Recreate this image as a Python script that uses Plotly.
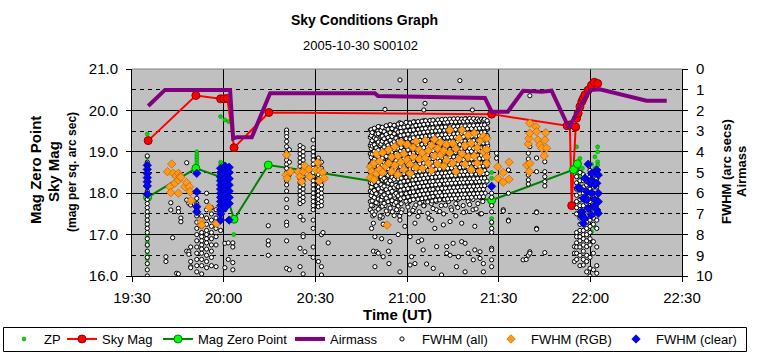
import plotly.graph_objects as go
from datetime import datetime, timedelta

BASE = datetime(2005, 10, 30)


def ut(s):
    h, m = s.split(":")
    return BASE + timedelta(hours=int(h), minutes=float(m))


def expand(times, vals):
    xs, ys = [], []
    for t, vs in zip(times, vals):
        for v in vs:
            xs.append(ut(t))
            ys.append(v)
    return xs, ys

# ---------------- data ----------------
# Sky Mag (left axis)
sky_t = ["19:35.3", "19:50.9", "19:59.0", "20:00.1", "20:01.2", "20:03.4", "20:14.8", "21:27.7",
         "21:52.4", "21:53.3", "21:53.9", "21:55.2", "21:55.5", "21:56.0", "21:56.6", "21:57.2",
         "21:57.7", "21:58.2", "21:59.3", "22:00.4", "22:01.3", "22:02.4"]
sky_v = [19.27, 20.36, 20.28, 20.28, 20.29, 19.10, 19.95, 19.91,
         19.63, 19.65, 17.70, 19.60, 19.81, 19.93, 20.09, 20.21,
         20.29, 20.37, 20.49, 20.61, 20.68, 20.65]

# Mag Zero Point (left axis)
mzp_t = ["19:35.1", "19:50.9", "19:59.1", "20:03.4", "20:14.6", "20:30.0", "21:27.7",
         "21:54.5", "21:55.8", "21:56.6"]
mzp_v = [17.90, 18.60, 18.39, 17.37, 18.68, 18.51, 17.83, 18.57, 18.71, 18.46]

# Airmass (right axis)
air_t = ["19:35.3", "19:40.8", "20:02.1", "20:03.1", "20:04.3", "20:09.2", "20:15.2", "20:49.5",
         "20:50.5", "21:10.1", "21:25.5", "21:27.7", "21:33.0", "21:38.0", "21:44.1", "21:47.3",
         "21:53.0", "21:56.6", "21:59.9", "22:03.1", "22:18.4", "22:25.0"]
air_v = [1.79, 1.01, 1.01, 3.35, 3.30, 3.30, 1.17, 1.17,
         1.30, 1.37, 1.40, 2.06, 2.06, 1.05, 1.10, 1.05,
         2.85, 1.82, 1.01, 0.98, 1.53, 1.53]

# ZP (left axis), grouped by frame time
zp_time = ["19:35.0", "19:51.2", "19:59.0", "20:00.4", "20:01.6", "20:03.3", "21:27.7",
           "21:55.5", "21:56.6", "21:57.4", "21:58.8", "22:00.4", "22:01.5", "22:02.4"]
zp_vals = [
    [19.43, 18.87, 18.72, 18.55, 18.35, 18.15, 17.98, 17.47, 17.33, 17.21, 16.95, 16.81, 16.73, 16.51, 16.41, 16.29],
    [19.00, 18.93, 18.86, 18.80, 18.73, 18.66],
    [19.85, 18.75, 18.68, 18.60],
    [19.77, 18.70, 18.62, 18.50],
    [19.73, 18.65, 18.55, 18.42],
    [17.42, 17.00],
    [18.50, 18.36, 17.39, 17.27, 17.15],
    [19.12, 18.60, 17.51],
    [18.84, 18.28, 17.81],
    [18.60, 18.12],
    [18.30, 17.96],
    [18.70, 18.45, 17.07],
    [18.88, 18.60, 17.19],
    [19.12, 19.00, 18.76, 18.68],
]

# FWHM (all) (right axis), early frames
all_early_time = ["19:35.0", "19:41.1", "19:42.7", "19:43.3", "19:44.6", "19:45.2", "19:46.0", "19:47.9",
                  "19:48.6", "19:49.2", "19:51.2", "19:52.8", "19:54.4", "19:56.0", "19:57.5", "19:59.0",
                  "20:00.4", "20:01.5", "20:03.0", "20:14.6", "20:20.6", "20:21.5", "20:25.0", "20:26.0",
                  "20:26.6", "20:29.3", "20:31.0", "20:32.0", "20:32.5", "20:34.2"]
all_early_vals = [
    [4.2, 4.5, 4.7, 5.1, 5.5, 5.9, 6.1, 6.3, 6.5, 6.7, 6.9, 7.1, 7.3, 7.5, 7.7, 7.9, 8.2, 8.5, 8.8, 9.1, 9.4, 9.7, 10.0],
    [9.07, 9.30],
    [6.46, 6.81],
    [8.15],
    [9.87],
    [6.73, 6.90, 9.90],
    [7.20, 7.38],
    [4.53, 6.33, 8.80],
    [6.49, 8.83, 8.95],
    [6.57, 8.60, 9.30, 9.55, 9.60],
    [6.25, 6.5, 6.8, 7.1, 7.4, 7.7, 8.0, 8.3, 8.6, 8.9, 9.2, 9.5, 9.8],
    [7.1, 7.4, 7.6, 7.9, 8.1, 8.3, 8.5, 8.7, 8.9, 9.2, 9.5, 9.9],
    [6.0, 6.4, 6.8, 7.2, 7.5, 7.8, 8.0, 8.2, 8.4, 8.7, 9.0, 9.3, 9.6],
    [6.7, 7.0, 7.3, 7.6, 7.9, 8.2, 8.5, 8.8, 9.1, 9.5],
    [6.8, 7.2, 7.7, 8.1, 8.5, 9.55],
    [4.9, 5.3, 5.7, 6.1, 6.5, 6.9, 7.3, 7.8],
    [5.0, 5.6, 6.2, 6.8, 8.42, 9.6],
    [7.3, 8.4, 9.2],
    [8.4, 8.6, 9.35, 9.7],
    [7.57, 8.3, 8.5, 9.0],
    [2.95, 3.1, 3.27, 3.5, 3.75, 4.0, 4.2, 4.4, 4.6, 4.8, 5.0, 5.2, 5.4, 5.6, 5.9, 6.3, 6.7, 7.4, 7.55, 8.3, 9.63],
    [3.9, 4.5, 5.1, 9.7],
    [3.7, 3.9, 4.1, 4.3, 4.5, 4.7, 4.9, 5.1, 5.3, 5.5, 5.7, 5.9, 6.1, 6.3, 6.5, 7.13, 8.66, 9.55],
    [3.8, 4.0, 4.2, 4.4, 4.6, 4.8, 5.0, 5.2, 5.4, 5.6, 5.8, 6.0, 6.2, 6.4, 7.3, 8.0, 8.1, 9.9],
    [8.83],
    [3.43, 3.8, 4.0, 4.2, 4.4, 4.6, 4.8, 5.0, 5.2, 5.4, 5.6, 5.8, 6.0, 6.2, 6.4, 6.6, 6.8, 7.3, 7.7, 8.6, 9.1],
    [4.3, 4.5, 4.7, 4.9, 5.1, 5.3, 5.5, 5.7, 5.9, 6.1, 6.3, 6.5, 6.65, 9.3],
    [4.5, 4.8, 5.0, 5.2, 5.4, 5.6, 5.8, 6.0, 6.2, 6.4, 6.6, 8.0, 9.55, 9.95],
    [7.9],
    [8.4],
]

# FWHM (all), dense run 20:48 - 21:26 (first set of frames)
all_dense_time = ["20:48.0", "20:48.8", "20:49.6", "20:50.4", "20:51.2", "20:52.0", "20:52.8", "20:53.6",
                  "20:54.4", "20:55.2", "20:56.0", "20:56.8", "20:57.6", "20:58.4", "20:59.2", "21:00.0",
                  "21:00.8", "21:01.6", "21:02.4", "21:03.2", "21:04.0", "21:04.8", "21:05.6", "21:06.4",
                  "21:07.2", "21:08.0", "21:08.8", "21:09.6", "21:10.4", "21:11.2", "21:12.0", "21:12.8",
                  "21:13.6", "21:14.4", "21:15.2", "21:16.0", "21:16.8", "21:17.6", "21:18.4", "21:19.2",
                  "21:20.0", "21:20.8", "21:21.6", "21:22.4", "21:23.2", "21:24.0", "21:24.8", "21:25.6",
                  "21:26.4"]
all_dense_vals = [
    [2.95, 3.3, 3.7, 4.1, 4.6, 5.0, 5.5, 5.9, 6.4, 6.8],
    [3.1, 3.5, 3.9, 4.4, 4.8, 5.3, 5.7, 6.2, 6.6, 7.1],
    [2.9, 3.4, 3.8, 4.2, 4.7, 5.1, 5.6, 6.0, 6.3, 6.9],
    [3.0, 3.6, 4.0, 4.5, 4.9, 5.4, 5.8, 6.1, 6.5],
    [2.8, 3.2, 3.7, 4.3, 4.6, 5.2, 5.5, 6.0, 6.7, 7.2],
    [3.0, 3.4, 3.9, 4.1, 4.7, 5.0, 5.6, 5.9, 6.3],
    [2.85, 3.3, 3.6, 4.2, 4.5, 4.9, 5.3, 5.8, 6.2, 6.6],
    [3.1, 3.5, 4.0, 4.4, 4.8, 5.2, 5.7, 6.1, 7.0],
    [2.7, 3.2, 3.8, 4.3, 4.7, 5.1, 5.5, 5.9, 6.4],
    [2.9, 3.4, 3.7, 4.1, 4.6, 5.0, 5.4, 6.0, 6.5, 6.9],
    [2.75, 3.1, 3.6, 4.0, 4.5, 4.9, 5.3, 5.8, 6.2],
    [3.0, 3.3, 3.9, 4.3, 4.8, 5.2, 5.6, 6.1, 6.6],
    [2.6, 3.2, 3.5, 4.2, 4.4, 5.0, 5.5, 5.9, 6.3, 7.1],
    [2.9, 3.4, 3.8, 4.1, 4.7, 5.1, 5.4, 6.0, 6.8],
    [2.7, 3.0, 3.6, 4.0, 4.5, 4.9, 5.3, 5.7, 6.2],
    [2.8, 3.3, 3.7, 4.3, 4.6, 5.2, 5.6, 6.1, 6.5],
    [2.6, 3.1, 3.5, 3.9, 4.4, 4.8, 5.1, 5.8, 6.4, 7.0],
    [2.9, 3.4, 3.8, 4.2, 4.7, 5.0, 5.5, 5.9, 6.3],
    [2.55, 3.0, 3.6, 4.1, 4.5, 4.9, 5.4, 5.7, 6.0, 6.7],
    [2.8, 3.2, 3.7, 4.0, 4.6, 5.1, 5.3, 5.8, 6.2],
    [2.6, 3.3, 3.9, 4.3, 4.8, 5.2, 5.6, 6.1, 6.9],
    [2.7, 3.1, 3.5, 4.2, 4.4, 4.9, 5.4, 5.9, 6.4],
    [2.5, 3.0, 3.4, 3.8, 4.3, 4.7, 5.1, 5.5, 6.0, 6.6],
    [2.8, 3.2, 3.7, 4.1, 4.6, 5.0, 5.3, 5.8, 6.3],
    [2.6, 3.1, 3.6, 4.0, 4.5, 4.9, 5.5, 5.7, 6.2, 7.2],
    [2.9, 3.3, 3.8, 4.2, 4.8, 5.2, 5.6, 6.0, 6.5],
    [2.55, 3.0, 3.5, 3.9, 4.4, 4.7, 5.1, 5.6, 6.1],
    [2.7, 3.2, 3.7, 4.3, 4.6, 5.0, 5.4, 5.9, 6.4, 6.8],
    [2.5, 3.1, 3.4, 4.0, 4.5, 4.9, 5.3, 5.8, 6.2],
    [2.8, 3.3, 3.6, 4.1, 4.7, 5.1, 5.5, 6.0, 6.6],
    [2.6, 3.0, 3.5, 3.9, 4.4, 4.8, 5.2, 5.7, 6.3, 7.0],
    [2.75, 3.2, 3.8, 4.2, 4.6, 5.0, 5.6, 5.9, 6.1],
    [2.5, 2.9, 3.4, 4.0, 4.3, 4.9, 5.3, 5.8, 6.4],
    [2.7, 3.1, 3.7, 4.1, 4.5, 5.1, 5.4, 6.0, 6.7],
    [2.45, 3.0, 3.5, 3.9, 4.4, 4.8, 5.2, 5.7, 6.2],
    [2.6, 3.2, 3.6, 4.2, 4.6, 5.0, 5.5, 5.9, 6.5, 7.1],
    [2.8, 3.3, 3.8, 4.0, 4.7, 4.9, 5.3, 5.8, 6.3],
    [2.5, 2.9, 3.4, 3.9, 4.3, 4.8, 5.2, 5.6, 6.0],
    [2.65, 3.1, 3.6, 4.1, 4.5, 5.0, 5.4, 6.1, 6.6],
    [2.4, 3.0, 3.5, 3.8, 4.4, 4.7, 5.1, 5.7, 6.2, 6.9],
    [2.7, 3.2, 3.7, 4.2, 4.6, 5.1, 5.5, 5.9, 6.4],
    [2.5, 2.9, 3.3, 3.9, 4.3, 4.8, 5.3, 5.8, 6.1],
    [2.6, 3.1, 3.6, 4.0, 4.5, 4.9, 5.2, 5.6, 6.3, 6.8],
    [2.45, 3.0, 3.4, 3.8, 4.4, 4.7, 5.1, 5.7, 6.0],
    [2.7, 3.2, 3.7, 4.1, 4.6, 5.0, 5.4, 5.9, 6.5],
    [2.5, 2.9, 3.5, 3.9, 4.3, 4.8, 5.3, 5.6, 6.2, 7.0],
    [2.6, 3.1, 3.6, 4.2, 4.5, 4.9, 5.2, 5.8, 6.4],
    [2.55, 3.0, 3.4, 3.8, 4.4, 4.7, 5.1, 5.5, 6.0],
    [2.6, 2.9, 3.3, 3.7, 4.1, 4.5],
]

# FWHM (all), dense run 20:48 - 21:26 (second, interleaved set of frames)
all_dense2_time = ["20:48.3", "20:48.6", "20:49.3", "20:49.9", "20:50.6", "20:51.5", "20:51.9", "20:52.5",
                   "20:53.2", "20:53.8", "20:54.5", "20:55.1", "20:55.8", "20:56.4", "20:57.1", "20:57.9",
                   "20:58.1", "20:59.0", "20:59.7", "21:00.3", "21:01.0", "21:01.9", "21:02.1", "21:02.9",
                   "21:03.6", "21:04.2", "21:04.9", "21:05.5", "21:06.1", "21:06.8", "21:07.5", "21:08.2",
                   "21:08.5", "21:09.4", "21:10.1", "21:10.7", "21:11.4", "21:12.3", "21:12.6", "21:13.3",
                   "21:14.0", "21:14.6", "21:15.3", "21:15.9", "21:16.6", "21:17.3", "21:17.9", "21:18.5",
                   "21:19.0", "21:19.8", "21:20.5", "21:21.1", "21:21.8", "21:22.6", "21:23.1", "21:23.7",
                   "21:24.4", "21:25.0", "21:25.4", "21:26.2"]
all_dense2_vals = [
    [2.93, 3.21, 3.58, 3.84, 4.27, 4.62, 4.95, 5.38, 5.71, 6.12, 6.58],
    [3.07, 3.46, 3.72, 4.11, 4.49, 4.83, 5.17, 5.53, 5.96, 6.37, 6.91],
    [2.86, 3.33, 3.66, 3.97, 4.36, 4.74, 5.02, 5.44, 5.87, 6.21, 7.04],
    [3.14, 3.39, 3.81, 4.18, 4.57, 4.88, 5.26, 5.64, 6.03, 6.46],
    [2.78, 3.12, 3.53, 3.92, 4.23, 4.69, 5.11, 5.47, 5.79, 6.28, 6.77],
    [2.97, 3.28, 3.63, 4.06, 4.41, 4.77, 5.21, 5.59, 5.93, 6.33],
    [2.82, 3.24, 3.49, 3.88, 4.31, 4.64, 4.99, 5.36, 5.74, 6.17, 6.63, 7.15],
    [3.03, 3.37, 3.77, 4.13, 4.52, 4.91, 5.29, 5.66, 6.08, 6.49],
    [2.74, 3.16, 3.55, 3.94, 4.22, 4.58, 5.07, 5.42, 5.83, 6.24, 6.86],
    [2.91, 3.31, 3.68, 4.03, 4.46, 4.81, 5.14, 5.51, 5.98, 6.41],
    [2.69, 3.08, 3.44, 3.86, 4.29, 4.67, 5.04, 5.39, 5.77, 6.15, 6.72],
    [2.88, 3.26, 3.61, 3.99, 4.38, 4.79, 5.23, 5.57, 5.91, 6.36],
    [2.72, 3.13, 3.52, 3.89, 4.26, 4.61, 4.97, 5.33, 5.72, 6.09, 6.54, 7.08],
    [2.95, 3.34, 3.74, 4.08, 4.43, 4.86, 5.19, 5.62, 6.01, 6.44],
    [2.66, 3.05, 3.47, 3.83, 4.19, 4.56, 4.93, 5.31, 5.69, 6.13, 6.62],
    [2.84, 3.22, 3.59, 3.96, 4.34, 4.72, 5.09, 5.48, 5.86, 6.27],
    [2.63, 3.02, 3.41, 3.79, 4.16, 4.54, 4.89, 5.27, 5.65, 6.04, 6.51, 6.94],
    [2.81, 3.19, 3.57, 3.93, 4.32, 4.68, 5.06, 5.43, 5.81, 6.22],
    [2.58, 2.99, 3.36, 3.76, 4.12, 4.51, 4.87, 5.24, 5.63, 6.02, 6.39],
    [2.77, 3.15, 3.54, 3.91, 4.28, 4.65, 5.03, 5.41, 5.78, 6.18, 6.67],
    [2.61, 2.97, 3.38, 3.73, 4.09, 4.47, 4.84, 5.22, 5.58, 5.97, 6.35],
    [2.79, 3.17, 3.51, 3.87, 4.24, 4.63, 5.01, 5.37, 5.76, 6.14, 6.83],
    [2.56, 2.94, 3.32, 3.71, 4.07, 4.44, 4.82, 5.18, 5.55, 5.94, 6.31],
    [2.73, 3.11, 3.48, 3.85, 4.21, 4.59, 4.96, 5.34, 5.71, 6.11, 6.57],
    [2.54, 2.92, 3.29, 3.67, 4.04, 4.42, 4.78, 5.16, 5.52, 5.92, 6.29, 7.12],
    [2.71, 3.09, 3.45, 3.82, 4.2, 4.57, 4.94, 5.32, 5.68, 6.07, 6.48],
    [2.52, 2.89, 3.27, 3.64, 4.02, 4.39, 4.76, 5.13, 5.49, 5.88, 6.26],
    [2.68, 3.06, 3.43, 3.8, 4.17, 4.55, 4.92, 5.29, 5.67, 6.05, 6.61],
    [2.5, 2.87, 3.25, 3.62, 3.98, 4.37, 4.73, 5.11, 5.46, 5.85, 6.23],
    [2.65, 3.03, 3.4, 3.78, 4.14, 4.53, 4.9, 5.26, 5.64, 6.03, 6.42, 6.97],
    [2.49, 2.86, 3.23, 3.6, 3.97, 4.34, 4.71, 5.08, 5.45, 5.83, 6.19],
    [2.64, 3.01, 3.39, 3.75, 4.13, 4.5, 4.87, 5.24, 5.61, 6.0, 6.38],
    [2.47, 2.84, 3.21, 3.58, 3.95, 4.33, 4.69, 5.06, 5.43, 5.81, 6.16, 6.74],
    [2.62, 2.99, 3.37, 3.74, 4.1, 4.48, 4.85, 5.22, 5.59, 5.98, 6.34],
    [2.46, 2.83, 3.2, 3.57, 3.93, 4.31, 4.68, 5.05, 5.42, 5.79, 6.13],
    [2.6, 2.98, 3.35, 3.72, 4.08, 4.46, 4.83, 5.2, 5.57, 5.96, 6.32, 6.88],
    [2.44, 2.81, 3.18, 3.55, 3.92, 4.29, 4.66, 5.03, 5.4, 5.77, 6.12],
    [2.59, 2.96, 3.33, 3.7, 4.07, 4.45, 4.81, 5.18, 5.55, 5.94, 6.3],
    [2.43, 2.8, 3.17, 3.54, 3.9, 4.28, 4.64, 5.02, 5.38, 5.76, 6.11, 6.58],
    [2.57, 2.95, 3.31, 3.69, 4.05, 4.43, 4.8, 5.17, 5.53, 5.92, 6.28],
    [2.42, 2.79, 3.16, 3.52, 3.89, 4.26, 4.63, 5.0, 5.37, 5.74, 6.09],
    [2.55, 2.93, 3.3, 3.67, 4.04, 4.41, 4.78, 5.15, 5.52, 5.9, 6.27, 6.81],
    [2.41, 2.78, 3.14, 3.51, 3.88, 4.25, 4.61, 4.98, 5.35, 5.73, 6.08],
    [2.56, 2.92, 3.29, 3.66, 4.03, 4.4, 4.77, 5.14, 5.51, 5.89, 6.25],
    [2.4, 2.77, 3.13, 3.5, 3.87, 4.24, 4.6, 4.97, 5.34, 5.72, 6.07, 6.69],
    [2.54, 2.91, 3.28, 3.65, 4.01, 4.39, 4.76, 5.12, 5.49, 5.87, 6.24],
    [2.42, 2.76, 3.12, 3.49, 3.86, 4.22, 4.59, 4.96, 5.33, 5.7, 6.06],
    [2.53, 2.9, 3.27, 3.63, 4.0, 4.38, 4.74, 5.11, 5.48, 5.86, 6.22, 6.93],
    [2.41, 2.75, 3.11, 3.48, 3.85, 4.21, 4.58, 4.95, 5.32, 5.69, 6.05],
    [2.52, 2.89, 3.26, 3.62, 3.99, 4.36, 4.73, 5.1, 5.47, 5.85, 6.21],
    [2.39, 2.74, 3.1, 3.47, 3.84, 4.2, 4.57, 4.94, 5.31, 5.68, 6.04, 6.55],
    [2.51, 2.88, 3.25, 3.61, 3.98, 4.35, 4.72, 5.09, 5.46, 5.84, 6.2],
    [2.4, 2.73, 3.09, 3.46, 3.83, 4.19, 4.56, 4.93, 5.3, 5.67, 6.03],
    [2.5, 2.87, 3.24, 3.6, 3.97, 4.34, 4.71, 5.08, 5.45, 5.83, 6.19, 6.76],
    [2.41, 2.72, 3.08, 3.45, 3.82, 4.18, 4.55, 4.92, 5.29, 5.66, 6.02],
    [2.49, 2.86, 3.23, 3.59, 3.96, 4.33, 4.7, 5.07, 5.44, 5.82, 6.18],
    [2.42, 2.71, 3.07, 3.44, 3.81, 4.17, 4.54, 4.91, 5.28, 5.65, 6.01, 6.99],
    [2.48, 2.85, 3.22, 3.58, 3.95, 4.32, 4.69, 5.06, 5.43, 5.81, 6.17],
    [2.43, 2.7, 3.06, 3.43, 3.8, 4.16, 4.53, 4.9, 5.27, 5.64],
    [2.5, 2.84, 3.21, 3.57, 3.94, 4.31, 4.68, 5.05, 5.42],
]

# FWHM (all), scattered outliers around the dense run
all_sparse_time = ["20:48.4", "20:49.0", "20:49.5", "20:50.1", "20:50.6", "20:51.2", "20:51.7", "20:52.2",
                   "20:52.8", "20:53.9", "20:54.1", "20:54.4", "20:56.6", "20:57.1", "20:57.7", "20:59.3",
                   "21:01.0", "21:01.5", "21:02.6", "21:03.7", "21:04.8", "21:05.3", "21:05.5", "21:05.9",
                   "21:06.4", "21:08.1", "21:08.6", "21:09.1", "21:09.7", "21:11.3", "21:11.9", "21:13.0",
                   "21:14.1", "21:15.1", "21:16.2", "21:16.8", "21:17.3", "21:17.9", "21:19.0", "21:20.0",
                   "21:21.4", "21:21.7", "21:22.2", "21:23.9", "21:25.0"]
all_sparse_vals = [
    [7.70], [7.45, 8.80], [8.10, 9.55], [8.83], [8.90], [7.10], [8.20], [7.50, 9.07],
    [1.95], [8.80], [9.40], [8.34], [6.80], [8.00], [7.30, 0.53, 9.80], [7.60],
    [8.10, 9.47], [9.07], [9.40, 7.45], [8.34], [8.26], [8.74], [1.98], [0.56, 1.66],
    [9.42], [7.30], [9.63], [7.70], [8.58], [9.95], [7.53], [8.58, 8.90],
    [7.37, 9.00], [8.42], [9.55], [9.07], [0.56], [7.45, 8.34], [9.80, 8.42], [8.90],
    [1.98], [9.22], [8.74, 7.60], [9.15, 8.83], [9.80, 9.40],
]

# FWHM (all), late frames
all_late_time = ["21:27.7", "21:29.3", "21:31.5", "21:33.2", "21:38.0", "21:39.0", "21:39.7", "21:40.2",
                 "21:42.4", "21:45.1", "21:54.8", "21:55.5", "21:56.6", "21:57.7", "21:58.8", "21:59.9",
                 "22:01.0", "22:02.1"]
all_late_vals = [
    [6.0, 6.2, 6.6, 6.9, 7.4, 7.7, 7.9, 8.66, 8.74, 9.22, 9.55],
    [4.07, 4.31],
    [6.8, 6.86],
    [4.88, 6.0, 7.3, 7.34],
    [9.22],
    [9.2],
    [4.07, 4.35, 5.12, 5.36, 5.56, 9.0],
    [1.29, 3.75, 8.83, 8.9],
    [4.3, 4.96, 6.9, 6.93, 7.7, 7.74],
    [4.48, 4.96, 5.2, 5.44, 5.65, 8.87],
    [8.58, 8.9, 9.3],
    [5.2, 5.5, 5.8, 6.1, 6.4, 6.7, 7.0, 7.9, 8.1, 8.4, 8.6, 8.9, 9.2],
    [5.0, 5.4, 5.7, 6.0, 6.3, 6.6, 6.9, 7.2, 7.5, 7.8, 8.1, 8.3, 8.6, 9.0, 9.5],
    [5.1, 5.4, 5.7, 6.0, 6.3, 6.6, 6.9, 7.2, 7.5, 7.8, 8.0, 8.2, 8.5, 8.8, 9.2, 9.47],
    [5.3, 5.6, 5.9, 6.2, 6.5, 6.8, 7.1, 7.4, 7.7, 8.0, 8.3, 8.58, 9.0, 9.3, 9.8],
    [4.9, 5.2, 5.5, 5.8, 6.1, 6.4, 6.7, 7.0, 7.3, 7.6, 7.9, 8.2, 8.5, 9.1, 9.63, 10.0],
    [5.1, 5.4, 5.7, 6.0, 6.3, 6.6, 6.9, 7.2, 7.5, 8.34, 8.9, 9.7],
    [5.3, 5.7, 6.1, 6.5, 6.9, 7.3, 7.7, 8.6, 9.5, 9.87],
]

# FWHM (RGB) (right axis)
rgb_time = ["19:41.6", "19:42.4", "19:42.7", "19:43.0", "19:43.5", "19:44.0", "19:44.4", "19:45.2",
            "19:45.7", "19:46.0", "19:47.3", "19:47.9", "19:48.8", "19:49.0", "19:49.3", "19:52.6",
            "19:52.8", "19:55.3", "19:57.6",
            "20:20.4", "20:20.6", "20:20.8", "20:21.9", "20:24.4", "20:25.0", "20:25.5", "20:26.1",
            "20:26.6", "20:27.9", "20:28.2", "20:30.2", "20:30.8", "20:31.3", "20:31.5", "20:32.4",
            "20:32.9",
            "20:48.0", "20:48.5", "20:49.2", "20:50.0", "20:51.0", "20:52.0", "20:53.0", "20:53.5",
            "20:54.0", "20:55.0", "20:56.0", "20:57.0", "20:58.0", "20:59.0", "21:00.0", "21:01.0",
            "21:02.0", "21:03.0", "21:04.0", "21:05.0", "21:06.0", "21:07.0", "21:08.0", "21:09.0",
            "21:10.0", "21:11.0", "21:12.0", "21:13.0", "21:14.0", "21:15.0", "21:16.0", "21:17.0",
            "21:18.0", "21:19.0", "21:20.0", "21:21.0", "21:22.0", "21:23.0", "21:24.0", "21:25.0",
            "21:26.1", "21:29.7", "21:31.5", "21:33.4", "21:39.2", "21:39.7", "21:39.9", "21:40.0",
            "21:40.2", "21:42.2", "21:42.4", "21:42.8", "21:43.5", "21:44.1", "21:44.9", "21:45.1",
            "21:45.4", "21:45.7"]
rgb_vals = [
    [4.96], [5.69], [5.97], [4.59], [5.04], [5.52], [5.17], [5.04, 5.36, 6.00],
    [5.20], [5.23], [5.69], [5.49], [5.69], [5.93], [6.36], [7.38],
    [7.54], [6.68], [7.47],
    [5.12], [4.15], [5.28], [4.96], [4.96], [5.20], [5.44], [4.96],
    [4.69], [4.85], [5.20], [4.88], [4.52], [5.41], [4.90], [5.00],
    [5.28],
    [4.72, 5.25], [4.95], [4.56, 5.35], [4.10, 5.05], [4.45, 4.85], [4.05, 5.00], [4.70], [7.54],
    [3.90, 4.55], [4.95, 4.25], [3.75, 4.65], [4.20, 5.10], [4.50, 3.55], [4.10, 4.85], [3.65, 4.40], [4.60, 5.05],
    [3.80, 4.25], [4.75, 3.50], [4.35, 3.90], [4.80, 4.05], [3.45, 4.30], [4.55, 3.95], [3.70, 4.90], [4.20, 3.40],
    [4.60, 3.85], [3.55, 4.15], [4.70, 3.95], [3.65, 4.40], [2.95, 4.05], [4.55, 3.60], [3.85, 4.95], [4.35, 3.35],
    [2.95, 4.10], [4.60, 3.70], [3.20, 4.25], [3.60, 4.85], [4.20, 3.10], [3.80, 4.55], [4.95, 3.45], [4.00, 3.25],
    [3.35, 3.90, 4.24, 4.56], [4.72, 5.28], [5.00, 5.47], [4.50, 5.33], [4.64], [3.62], [3.35], [4.96],
    [2.62, 3.10, 4.56], [2.79], [3.03], [3.43], [3.67], [3.83], [4.20], [3.43],
    [3.08], [3.83],
]

# FWHM (clear) (right axis)
clear_time = ["19:35.0", "19:51.2", "19:59.0", "20:00.4", "20:01.8", "21:27.7", "21:56.0", "21:56.6",
              "21:57.2", "21:57.7", "21:58.2", "21:58.8", "21:59.3", "21:59.9", "22:00.4", "22:01.3",
              "22:01.5", "22:02.1", "22:02.6"]
clear_vals = [
    [4.65, 4.85, 5.05, 5.25, 5.45, 5.65, 6.05],
    [5.04, 5.93, 6.65, 6.90],
    [4.8, 5.0, 5.2, 5.4, 5.6, 5.8, 6.0, 6.2, 6.4, 6.6, 6.8, 7.0, 7.3],
    [4.7, 4.9, 5.1, 5.3, 5.5, 5.7, 5.9, 6.1, 6.3, 6.5, 6.7],
    [4.75, 5.0, 5.3, 5.6, 5.9, 6.2, 6.5, 7.3],
    [5.67],
    [5.73],
    [5.77],
    [6.90, 7.13],
    [6.25, 7.45],
    [5.28, 7.21],
    [5.93, 6.33],
    [4.60, 6.73],
    [5.52],
    [5.04, 5.36, 6.00, 7.05],
    [6.65],
    [5.60, 6.33],
    [4.88, 5.52, 6.81],
    [5.12, 6.00, 6.41, 6.97],
]

# ---------------- figure ----------------
FONT = "Liberation Sans, Arial, sans-serif"
W, H = 764, 358
PL, PR, PT, PB = 132, 682, 69, 276


def px_x(p):
    return (p - PL) / (PR - PL)


def px_y(p):
    return (PB - p) / (PB - PT)


fig = go.Figure()

zx, zy = expand(zp_time, zp_vals)
fig.add_trace(go.Scatter(x=zx, y=zy, mode="markers", name="ZP", legend="legend",
                         marker=dict(symbol="circle", size=4, color="#00E000",
                                     line=dict(color="#008000", width=0.5)),
                         yaxis="y"))
fig.add_trace(go.Scatter(x=[ut(t) for t in sky_t], y=sky_v, mode="lines+markers", name="Sky Mag",
                         legend="legend2",
                         line=dict(color="#FF0000", width=2),
                         marker=dict(symbol="circle", size=8, color="#FF0000",
                                     line=dict(color="#900000", width=1)),
                         yaxis="y"))
fig.add_trace(go.Scatter(x=[ut(t) for t in mzp_t], y=mzp_v, mode="lines+markers", name="Mag Zero Point",
                         legend="legend3",
                         line=dict(color="#008000", width=2),
                         marker=dict(symbol="circle", size=8, color="#00FF00",
                                     line=dict(color="#008000", width=1)),
                         yaxis="y"))
fig.add_trace(go.Scatter(x=[ut(t) for t in air_t], y=air_v, mode="lines", name="Airmass",
                         legend="legend4",
                         line=dict(color="#800080", width=4),
                         yaxis="y2"))

ax1, ay1 = expand(all_early_time, all_early_vals)
ax2, ay2 = expand(all_dense_time, all_dense_vals)
ax2b, ay2b = expand(all_dense2_time, all_dense2_vals)
ax3, ay3 = expand(all_sparse_time, all_sparse_vals)
ax4, ay4 = expand(all_late_time, all_late_vals)
fig.add_trace(go.Scatter(x=ax1 + ax2 + ax2b + ax3 + ax4, y=ay1 + ay2 + ay2b + ay3 + ay4,
                         mode="markers", name="FWHM (all)", legend="legend5",
                         marker=dict(symbol="circle", size=4.2, color="#FFFFFF",
                                     line=dict(color="#000000", width=1)),
                         yaxis="y2"))
rx, ry = expand(rgb_time, rgb_vals)
fig.add_trace(go.Scatter(x=rx, y=ry, mode="markers", name="FWHM (RGB)", legend="legend6",
                         marker=dict(symbol="diamond", size=6.5, color="#FF9A1A",
                                     line=dict(color="#C06000", width=0.7)),
                         yaxis="y2"))
cx, cy = expand(clear_time, clear_vals)
fig.add_trace(go.Scatter(x=cx, y=cy, mode="markers", name="FWHM (clear)", legend="legend7",
                         marker=dict(symbol="diamond", size=6.5, color="#0000FF",
                                     line=dict(color="#000080", width=0.7)),
                         yaxis="y2"))

# one single-entry legend per series, placed along a boxed strip like the original
legend_left_px = [4, 62, 158, 290, 382, 491, 616]
legend_keys = ["legend", "legend2", "legend3", "legend4", "legend5", "legend6", "legend7"]
legend_layout = {}
for key, lx in zip(legend_keys, legend_left_px):
    legend_layout[key] = dict(orientation="h", xref="container", yref="container",
                              x=lx / W, y=1 - 339 / H, xanchor="left", yanchor="middle",
                              bgcolor="rgba(0,0,0,0)", borderwidth=0,
                              font=dict(size=13, family=FONT, color="#000000"),
                              itemclick=False, itemdoubleclick=False)

fig.update_layout(
    width=W, height=H, autosize=False,
    margin=dict(l=PL, r=W - PR, t=PT, b=H - PB, pad=0, autoexpand=False),
    paper_bgcolor="#FFFFFF", plot_bgcolor="#C0C0C0",
    font=dict(family=FONT, size=15, color="#000000"),
    showlegend=True,
    xaxis=dict(type="date", range=[ut("19:30"), ut("22:30")], tick0=ut("19:30"), dtick=30 * 60 * 1000,
               tickformat="%H:%M", showgrid=True, gridcolor="#000000", gridwidth=1,
               showline=True, linecolor="#000000", linewidth=1, ticks="outside", ticklen=5,
               tickcolor="#000000", tickfont=dict(size=15, family=FONT), zeroline=False,
               ticklabelstandoff=3, fixedrange=True),
    yaxis=dict(range=[16, 21], tick0=16, dtick=1, tickformat=".1f", showgrid=True,
               gridcolor="#000000", gridwidth=1,
               minor=dict(dtick=0.5, showgrid=True, gridcolor="#000000", griddash="4px,4px",
                          gridwidth=1, ticks=""),
               showline=True, linecolor="#000000", linewidth=1, ticks="outside", ticklen=5,
               tickcolor="#000000", tickfont=dict(size=15, family=FONT), zeroline=False,
               ticklabelstandoff=5),
    yaxis2=dict(overlaying="y", side="right", range=[10, 0], tick0=0, dtick=1, showgrid=False,
                showline=True, linecolor="#000000", linewidth=1, ticks="outside", ticklen=5,
                tickcolor="#000000", tickfont=dict(size=15, family=FONT), zeroline=False,
                ticklabelstandoff=5),
    shapes=[
        dict(type="line", xref="paper", yref="paper", x0=0, x1=1, y0=1, y1=1,
             line=dict(color="#808080", width=1)),
        dict(type="rect", xref="paper", yref="paper", layer="below",
             x0=px_x(3.5), x1=px_x(746.5), y0=px_y(351.5), y1=px_y(327.5),
             line=dict(color="#000000", width=1), fillcolor="#FFFFFF"),
    ],
    **legend_layout,
)

ann = [
    dict(text="<b>Sky Conditions Graph</b>", x=px_x(364), y=px_y(20), font=dict(size=14)),
    dict(text="2005-10-30 S00102", x=px_x(360), y=px_y(46), font=dict(size=13)),
    dict(text="<b>Time (UT)</b>", x=px_x(397), y=px_y(314), font=dict(size=15)),
    dict(text="<b>Mag Zero Point</b>", x=px_x(35), y=px_y(170), font=dict(size=15), textangle=-90),
    dict(text="<b>Sky Mag</b>", x=px_x(53), y=px_y(172), font=dict(size=15), textangle=-90),
    dict(text="<b>(mag per sq. arc sec)</b>", x=px_x(72), y=px_y(172), font=dict(size=12), textangle=-90),
    dict(text="<b>FWHM (arc secs)</b>", x=px_x(726), y=px_y(172), font=dict(size=13), textangle=-90),
    dict(text="<b>Airmass</b>", x=px_x(741), y=px_y(172), font=dict(size=13), textangle=-90),
]
for a in ann:
    a.update(xref="paper", yref="paper", showarrow=False, xanchor="center", yanchor="middle")
    a["font"].update(family=FONT, color="#000000")
fig.update_layout(annotations=ann)

# the page body's default 8px margin would shift the whole chart; remove it
fig.write_html("out.html", config={"displayModeBar": False},
               post_script="document.body.style.margin='0';")
